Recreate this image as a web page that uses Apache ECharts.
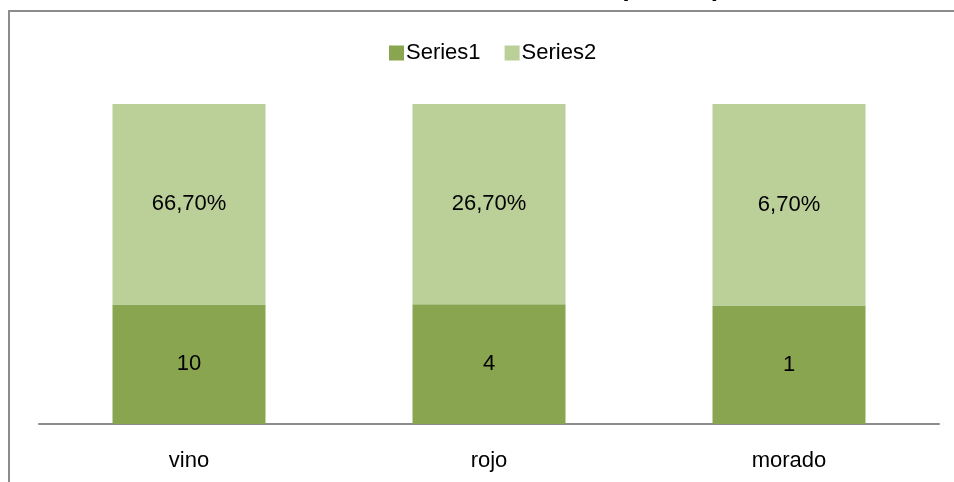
<!DOCTYPE html>
<html>
<head>
<meta charset="utf-8">
<script src="https://cdn.jsdelivr.net/npm/echarts@6/dist/echarts.min.js"></script>
<style>
    html, body { margin: 0; padding: 0; background: #fff; }
    #chart { width: 954px; height: 482px; }
</style>
</head>
<body>
<div id="chart"></div>
<script>
'use strict';

var categories = ['vino', 'rojo', 'morado'];
var series1 = [10, 4, 1];
// series2 sizes (chart is 100% stacked)
var series2 = [16.8, 6.7, 1.7];
var series2Pct = [66.7, 26.7, 6.7];

var font = 'Liberation Sans';

function share(a, b, i){
    return a[i] / (a[i] + b[i]) * 100;
}

var s1Share = categories.map(function(c, i){ return share(series1, series2, i); });
var s2Share = categories.map(function(c, i){ return share(series2, series1, i); });

var myChart = echarts.init(document.getElementById('chart'));

var option = {
    animation: false,
    title: {
        text: 'COLORES (TOTAL)',
        right: 228,
        top: -29,
        textStyle: { fontFamily: font, fontSize: 26, fontWeight: 'bold', color: '#000' }
    },
    graphic: [{
        type: 'rect',
        shape: { x: 9, y: 11, width: 2000, height: 2000 },
        style: { fill: 'none', stroke: '#8c8c8c', lineWidth: 2 },
        silent: true
    }],
    legend: {
        left: 384,
        top: 37,
        itemWidth: 15,
        itemHeight: 15,
        itemGap: 24,
        icon: 'rect',
        textStyle: { fontFamily: font, fontSize: 22, color: '#000', padding: [0, 0, 0, -3] },
        data: ['Series1', 'Series2']
    },
    grid: { left: 39, top: 104, width: 900, height: 320 },
    xAxis: {
        type: 'category',
        data: categories,
        axisLine: { lineStyle: { color: '#8c8c8c', width: 2 } },
        axisTick: { show: false },
        axisLabel: { fontFamily: font, fontSize: 22, color: '#000', margin: 26 }
    },
    yAxis: {
        type: 'value',
        min: 0,
        max: 100,
        show: false
    },
    series: [{
        name: 'Series1',
        type: 'bar',
        stack: 'total',
        barWidth: 153,
        itemStyle: { color: '#8aa550' },
        label: {
            show: true,
            position: 'inside',
            fontFamily: font,
            fontSize: 22,
            color: '#000',
            formatter: function(p){ return String(series1[p.dataIndex]); }
        },
        data: s1Share
    }, {
        name: 'Series2',
        type: 'bar',
        stack: 'total',
        barWidth: 153,
        itemStyle: { color: '#bbcf99' },
        label: {
            show: true,
            position: 'inside',
            fontFamily: font,
            fontSize: 22,
            color: '#000',
            formatter: function(p){ return series2Pct[p.dataIndex].toFixed(2).replace('.', ',') + '%'; }
        },
        data: s2Share
    }]
};

myChart.setOption(option);
</script>
</body>
</html>
